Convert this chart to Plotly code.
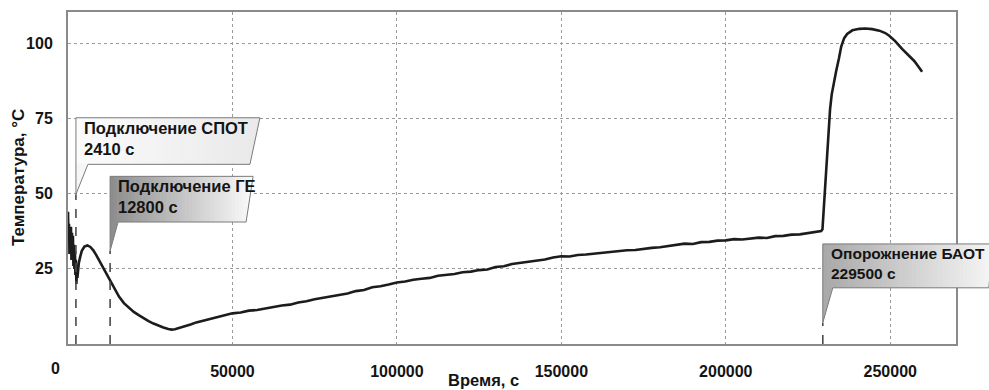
import plotly.graph_objects as go

# ---------------- data ----------------
time_s = [
    0, 150, 300, 450, 600, 750, 900, 1050, 1200, 1350, 1500, 1650, 1800, 1950, 2100, 2250, 2400,
    2550, 2700, 2850, 3000, 3300, 3700, 4200, 5000, 5900, 6800, 7700, 8600, 9500, 10500, 11500,
    12800, 14000, 15500, 17000, 18500, 20000, 21500, 23000, 24500, 26000, 27500, 29000, 30500,
    31500, 32500, 33500, 34500, 36000, 37500, 39000, 40500, 42000, 43500, 45000, 46500, 48000,
    50000, 52500, 55000, 57500, 60000, 62500, 65000, 67500, 70000, 72500, 75000, 77500, 80000,
    82500, 85000, 87500, 90000, 92500, 95000, 97500, 100000, 102500, 105000, 107500, 110000,
    112500, 115000, 117500, 120000, 122500, 125000, 127500, 130000, 132500, 135000, 137500,
    140000, 142500, 145000, 147500, 150000, 152500, 155000, 157500, 160000, 162500, 165000,
    167500, 170000, 172500, 175000, 177500, 180000, 182500, 185000, 187500, 190000, 192500,
    195000, 197500, 200000, 202500, 205000, 207500, 210000, 212500, 215000, 217500, 220000,
    222500, 225000, 227500, 229000, 229400, 229800, 230200, 230700, 231200, 231700, 232200,
    232900, 233600, 234400, 235100, 236000, 236900, 238500, 240600, 242500, 244500, 246700,
    248500, 249700, 251500, 253600, 255500, 257300, 258600, 259700,
]
temp_c = [
    44, 35, 40, 30, 38, 33, 39, 28, 37, 31, 36, 26, 33, 25, 31, 23, 28,
    20, 24, 22, 25, 27, 29, 31, 32.4, 32.8, 32.3, 31.2, 29.6, 27.8, 25.6, 23.4,
    21.2, 18.6, 15.8, 13.6, 12.0, 10.7, 9.6, 8.5, 7.6, 6.8, 6.1, 5.5, 5.0,
    4.8, 4.9, 5.2, 5.6, 6.1, 6.6, 7.2, 7.6, 8.2, 8.5, 9.0, 9.3, 9.8,
    10.2, 10.5, 11.1, 11.3, 11.9, 12.3, 12.8, 13.1, 13.8, 14.2, 14.9, 15.4, 15.8,
    16.5, 16.8, 17.6, 18.0, 18.9, 19.2, 19.8, 20.5, 20.8, 21.4, 21.7, 22.0,
    22.7, 22.9, 23.3, 23.9, 24.1, 24.6, 24.8, 25.6, 25.9, 26.6, 27.0,
    27.4, 27.9, 28.1, 28.8, 29.2, 29.1, 29.6, 29.8, 30.1, 30.4, 30.5,
    30.9, 31.2, 31.3, 31.7, 32.0, 32.2, 32.6, 32.8, 33.4, 33.3, 33.9,
    34.0, 34.4, 34.5, 34.9, 34.8, 35.2, 35.4, 35.3, 35.9, 36.0, 36.4,
    36.5, 36.9, 37.2, 37.6, 38.2, 45, 52, 62, 72, 78, 83,
    87.5, 91, 95, 99, 101.8, 103.2, 104.4, 104.9, 105.0, 104.8, 104.3,
    103.5, 102.6, 100.8, 98.2, 96.3, 94.2, 92.3, 90.6,
]

x_ticks = [50000, 100000, 150000, 200000, 250000]
x_tick_labels = ["50000", "100000", "150000", "200000", "250000"]
y_ticks = [25, 50, 75, 100]
y_tick_labels = ["25", "50", "75", "100"]

event_times = [2410, 12800, 229500]
event_labels = ["Подключение СПОТ<br>2410 с", "Подключение ГЕ<br>12800 с", "Опорожнение БАОТ<br>229500 с"]
event_box_top = [75.3, 55.8, 33.3]
event_box_bottom = [59.8, 40.6, 18.7]
event_tip = [49.8, 31.0, 7.1]

x_title = "Время, с"
y_title = "Температура, °С"

# ---------------- layout geometry / styles ----------------
W, H = 989, 390
ML, MR, MT, MB = 68, 33, 10, 46
PW, PH = W - ML - MR, H - MT - MB
X_RANGE = [0, 270000]
Y_RANGE = [0, 110.5]

box_width_px = [184, 143, 170]
box_slant_px = [10, 7, 4]
tail_px = [12, 8, 10]
label_size = [16.5, 16.5, 15.5]
grad_left = ["#fbfbfb", "#8c8c8c", "#a8a8a8"]
grad_right = ["#e9e9e9", "#fbfbfb", "#f6f6f6"]
tail_color = ["#f6f6f6", "#8e8e8e", "#aaaaaa"]

FONT = "Liberation Sans, Arial, sans-serif"


def x2px(t):
    return ML + (t - X_RANGE[0]) / (X_RANGE[1] - X_RANGE[0]) * PW


def y2py(v):
    return MT + PH - (v - Y_RANGE[0]) / (Y_RANGE[1] - Y_RANGE[0]) * PH


def px2paper(px):
    return (px - ML) / PW


def py2paper(py):
    return (MT + PH - py) / PH


def hexrgb(h):
    h = h.lstrip("#")
    return [int(h[i:i + 2], 16) for i in (0, 2, 4)]


def mix(c1, c2, f):
    a, b = hexrgb(c1), hexrgb(c2)
    return "rgb(%d,%d,%d)" % tuple(round(a[i] + (b[i] - a[i]) * f) for i in range(3))


def clip(poly, x0, x1):
    def clip_half(pts, keep, xb):
        out = []
        n = len(pts)
        for i in range(n):
            p, q = pts[i], pts[(i + 1) % n]
            pin, qin = keep(p[0]), keep(q[0])
            if pin:
                out.append(p)
            if pin != qin:
                t = (xb - p[0]) / (q[0] - p[0])
                out.append((xb, p[1] + t * (q[1] - p[1])))
        return out
    pts = clip_half(poly, lambda x: x >= x0, x0)
    if not pts:
        return pts
    return clip_half(pts, lambda x: x <= x1, x1)


def path_of(pts):
    return "M " + " L ".join("%.5f,%.5f" % (px2paper(x), py2paper(y)) for x, y in pts) + " Z"


shapes = []
annotations = []
N_STRIPS = 40
for i, t in enumerate(event_times):
    L = x2px(t)
    top, bot, tip = y2py(event_box_top[i]), y2py(event_box_bottom[i]), y2py(event_tip[i])
    Rt = L + box_width_px[i]
    Rb = Rt - box_slant_px[i]
    T = L + tail_px[i]
    body = [(L, top), (Rt, top), (Rb, bot), (L, bot)]
    span = Rt - L
    for k in range(N_STRIPS):
        a = L + span * k / N_STRIPS
        b = L + span * (k + 1) / N_STRIPS + 0.6
        poly = clip(body, a, b)
        if len(poly) < 3:
            continue
        shapes.append(dict(type="path", xref="paper", yref="paper", path=path_of(poly),
                           fillcolor=mix(grad_left[i], grad_right[i], (k + 0.5) / N_STRIPS),
                           line=dict(width=0), layer="above"))
    shapes.append(dict(type="path", xref="paper", yref="paper",
                       path=path_of([(L, bot - 0.8), (T, bot - 0.8), (L, tip)]),
                       fillcolor=tail_color[i], line=dict(width=0), layer="above"))
    # dashed marker line
    shapes.append(dict(type="line", xref="x", yref="y", x0=t, x1=t, y0=Y_RANGE[0], y1=event_tip[i],
                       line=dict(color="#4a4a4a", width=1.6, dash="dash"), layer="above"))
    # outline
    shapes.append(dict(type="path", xref="paper", yref="paper",
                       path=path_of([(L, top), (Rt, top), (Rb, bot), (T, bot), (L, tip)]),
                       fillcolor="rgba(0,0,0,0)", line=dict(color="#7a7a7a", width=1), layer="above"))
    annotations.append(dict(xref="paper", yref="paper", x=px2paper(L + 6), y=py2paper(top - 1),
                            xanchor="left", yanchor="top", align="left", showarrow=False,
                            text=event_labels[i],
                            font=dict(family=FONT, size=label_size[i], color="#141414", weight="bold")))

# "0" origin label and axis titles
annotations.append(dict(xref="paper", yref="paper", x=px2paper(55), y=py2paper(369),
                        xanchor="center", yanchor="middle", showarrow=False, text="0",
                        font=dict(family=FONT, size=16, color="#141414", weight="bold")))
annotations.append(dict(xref="paper", yref="paper", x=px2paper(483), y=py2paper(380),
                        xanchor="center", yanchor="middle", showarrow=False, text=x_title,
                        font=dict(family=FONT, size=16.5, color="#141414", weight="bold")))
annotations.append(dict(xref="paper", yref="paper", x=px2paper(18), y=0.5,
                        xanchor="center", yanchor="middle", showarrow=False, text=y_title,
                        textangle=-90,
                        font=dict(family=FONT, size=17, color="#141414", weight="bold")))

fig = go.Figure()
fig.add_trace(go.Scatter(x=time_s, y=temp_c, mode="lines",
                         line=dict(color="#1c1c1c", width=2.6), hoverinfo="skip",
                         showlegend=False))

axis_common = dict(showline=True, linecolor="#8a8a8a", linewidth=2, mirror=True,
                   showgrid=True, gridcolor="#9a9a9a", gridwidth=1.3, griddash="dot",
                   zeroline=False, ticks="", fixedrange=True,
                   tickfont=dict(family=FONT, size=16, color="#141414", weight="bold"))

fig.update_xaxes(range=X_RANGE, tickvals=x_ticks, ticktext=x_tick_labels,
                 ticklabelstandoff=12, **axis_common)
fig.update_yaxes(range=Y_RANGE, tickvals=y_ticks, ticktext=y_tick_labels,
                 ticklabelstandoff=10, **axis_common)

fig.update_layout(width=W, height=H, margin=dict(l=ML, r=MR, t=MT, b=MB),
                  paper_bgcolor="white", plot_bgcolor="white",
                  shapes=shapes, annotations=annotations, showlegend=False)

fig.write_html("out.html", config={"displayModeBar": False},
               post_script="document.body.style.margin='0';document.body.style.overflow='hidden';")
